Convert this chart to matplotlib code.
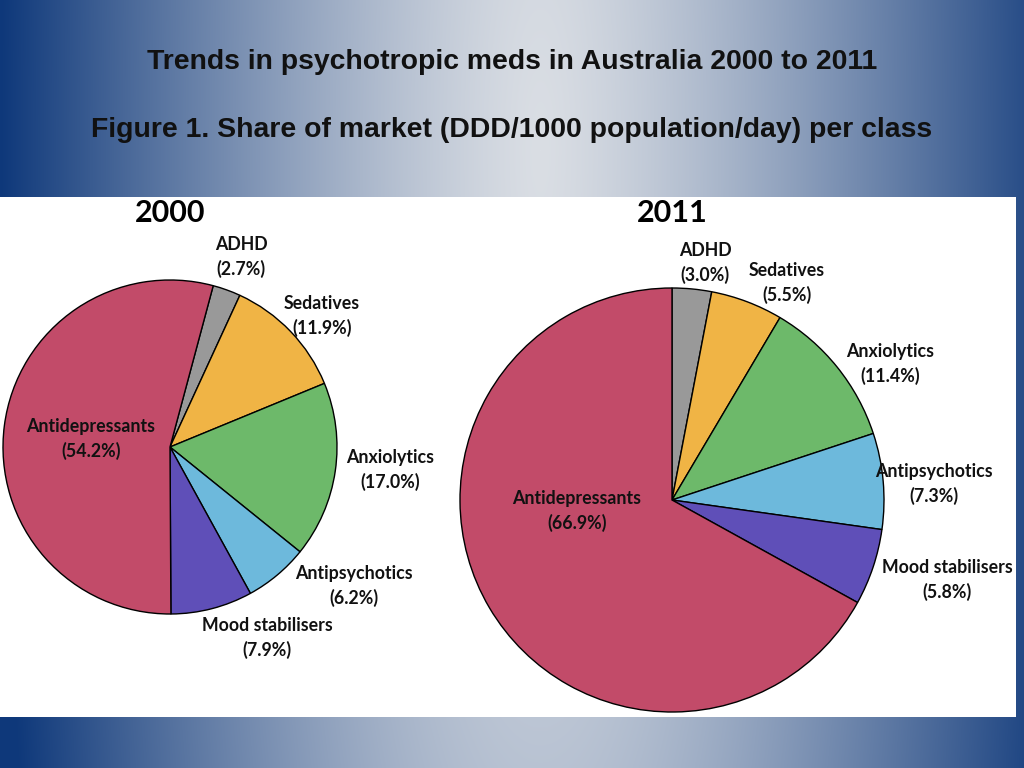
import numpy as np
import matplotlib.pyplot as plt
from matplotlib.patches import Rectangle

# ---------------- data ----------------
classes = ["ADHD", "Sedatives", "Anxiolytics", "Antipsychotics",
           "Mood stabilisers", "Antidepressants"]
share_2000 = [2.7, 11.9, 17.0, 6.2, 7.9, 54.2]
share_2011 = [3.0, 5.5, 11.4, 7.3, 5.8, 66.9]
colors = ["#999999", "#F0B445", "#6DB96A", "#6DB9DC", "#5F4FB8", "#C24B69"]

title1 = "Trends in psychotropic meds in Australia 2000 to 2011"
title2 = "Figure 1. Share of market (DDD/1000 population/day) per class"

W, H = 1024, 768
fig = plt.figure(figsize=(W / 100, H / 100), dpi=100)

# ---------------- slide background ----------------
bg = fig.add_axes([0, 0, 1, 1])
yy, xx = np.mgrid[0:H, 0:W]
dx = np.abs(xx - 540) / 540.0
dy = np.abs(yy - 150) / 700.0
t = np.clip(np.sqrt(dx ** 2 + 0.08 * dy ** 2), 0, 1) ** 1.3
light = np.array([218, 222, 228]) / 255.0
dark = np.array([14, 56, 122]) / 255.0
img = light[None, None, :] * (1 - t[..., None]) + dark[None, None, :] * t[..., None]
bg.imshow(img, extent=[0, W, H, 0], aspect="auto")
bg.set_xlim(0, W)
bg.set_ylim(H, 0)
bg.axis("off")

title_font = ["Liberation Sans Narrow", "Liberation Sans", "DejaVu Sans"]
bg.text(512, 62, title1, ha="center", va="center", fontsize=20.4,
        fontweight="bold", family=title_font, color="#111111")
bg.text(512, 130, title2, ha="center", va="center", fontsize=20.4,
        fontweight="bold", family=title_font, color="#111111")

# white panel
bg.add_patch(Rectangle((0, 197), 1016, 520, facecolor="white", edgecolor="none"))

# ---------------- pies ----------------
ax = fig.add_axes([0, 0, 1, 1])

wedge_style = {"edgecolor": "black", "linewidth": 1.0}
ax.pie(share_2000, colors=colors, center=(170, H - 447), radius=167,
       startangle=75, counterclock=False, wedgeprops=wedge_style, frame=True)
ax.pie(share_2011, colors=colors, center=(672, H - 500), radius=212,
       startangle=90, counterclock=False, wedgeprops=wedge_style, frame=True)
ax.set_xlim(0, W)
ax.set_ylim(0, H)
ax.set_aspect("equal")
ax.axis("off")

lab_font = ["Lato", "DejaVu Sans"]
ax.text(170, H - 213, "2000", ha="center", va="center", fontsize=22,
        fontweight="bold", family=lab_font)
ax.text(672, H - 213, "2011", ha="center", va="center", fontsize=22,
        fontweight="bold", family=lab_font)

# label positions (pixel, from top) for each class
pos_2000 = [(241, 257), (322, 316), (390, 470), (354, 586), (267, 638), (91, 439)]
pos_2011 = [(705, 263), (787, 283), (890, 364), (934, 484), (947, 580), (577, 511)]

for shares, positions in [(share_2000, pos_2000), (share_2011, pos_2011)]:
    for name, val, (px, py) in zip(classes, shares, positions):
        ax.text(px, H - py, f"{name}\n({val:.1f}%)", ha="center", va="center",
                fontsize=12.8, fontweight="bold", family=lab_font,
                linespacing=1.5, color="#111111")

fig.savefig("out.png", dpi=100)
